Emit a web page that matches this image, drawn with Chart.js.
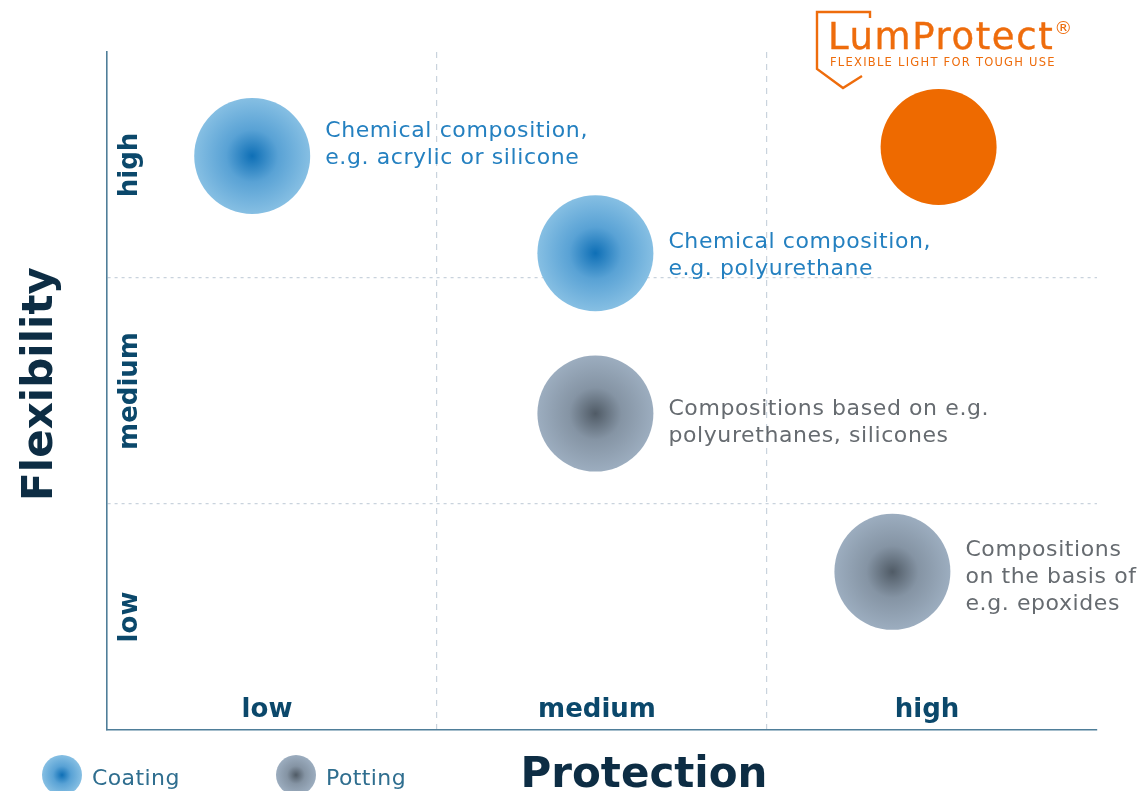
<!DOCTYPE html>
<html>
<head>
<meta charset="utf-8">
<title>LumProtect – Protection vs Flexibility</title>
<script src="https://cdn.jsdelivr.net/npm/chart.js@4.4.1/dist/chart.umd.min.js"></script>
<style>
  html, body { margin: 0; padding: 0; background: #fff; overflow: hidden; }
  #wrap { position: relative; width: 1140px; height: 791px; }
  #logo { position: absolute; left: 0; top: 0; width: 1140px; height: 100px; pointer-events: none; }
  #logo .brand {
    position: absolute; left: 828px; top: 18px;
    font: 500 37px "DejaVu Sans", sans-serif; letter-spacing: 1.6px; color: #ee6c0c; line-height: 1;
    -webkit-text-stroke: 0.4px #ee6c0c;
  }
  #logo .brand sup { font-size: 18px; vertical-align: 15px; margin-left: 0; -webkit-text-stroke: 0; }
  #logo .tag {
    position: absolute; left: 830px; top: 57px;
    font: 11.5px "DejaVu Sans", sans-serif; letter-spacing: 1.25px; color: #ee6c0c; line-height: 1;
  }
</style>
</head>
<body>
<div id="wrap">
  <canvas id="matrix" width="1140" height="791"></canvas>
  <div id="logo">
    <svg width="1140" height="100" style="position:absolute;left:0;top:0">
      <polyline points="870,18 870,12 817,12 817,69 843,88 862,76" fill="none" stroke="#ee6c0c" stroke-width="2.4" stroke-linejoin="miter"/>
    </svg>
    <div class="brand">LumProtect<sup>®</sup></div>
    <div class="tag">FLEXIBLE LIGHT FOR TOUGH USE</div>
  </div>
</div>
<script>
// Levels on both axes
const levels = ["low", "medium", "high"];

// Coating products (Protection, Flexibility)
const coatingX = [0.44, 1.48];
const coatingY = [2.54, 2.11];
const coatingNotes = [
  ["Chemical composition,", "e.g. acrylic or silicone"],
  ["Chemical composition,", "e.g. polyurethane"],
];

// Potting products
const pottingX = [1.48, 2.38];
const pottingY = [1.40, 0.70];
const pottingNotes = [
  ["Compositions based on e.g.", "polyurethanes, silicones"],
  ["Compositions", "on the basis of", "e.g. epoxides"],
];

// LumProtect
const lumX = [2.52];
const lumY = [2.58];

const RADIUS = 58;
const TICK_COLOR = "#0b486b";
const TITLE_COLOR = "#0d2d44";
const GRID_COLOR = "#c9d3dd";
const AXIS_COLOR = "#4f7e99";
// small vertical nudges of the note blocks (px)
const NOTE_SHIFT = [[-13, 0], [7, 3]];

const toPoints = (xs, ys) => xs.map((v, i) => ({ x: v, y: ys[i] }));

function radial(stops) {
  return (c) => {
    const chart = c.chart;
    if (!chart.chartArea || !c.raw) return stops[stops.length - 1];
    const px = chart.scales.x.getPixelForValue(c.raw.x);
    const py = chart.scales.y.getPixelForValue(c.raw.y);
    return makeGradient(chart.ctx, px, py, RADIUS, stops);
  };
}

function makeGradient(ctx, px, py, r, stops) {
  const g = ctx.createRadialGradient(px, py, 0, px, py, r);
  g.addColorStop(0, stops[0]);
  g.addColorStop(0.45, stops[1]);
  g.addColorStop(1, stops[2]);
  return g;
}

const coatingStops = ["#0e6fb6", "#59a2d5", "#86bfe3"];
const pottingStops = ["#505b66", "#8594a4", "#9cadbf"];

const datasets = [
  {
    label: "Coating",
    data: toPoints(coatingX, coatingY),
    notes: coatingNotes,
    noteColor: "#2480c0",
    stops: coatingStops,
    backgroundColor: radial(coatingStops),
  },
  {
    label: "Potting",
    data: toPoints(pottingX, pottingY),
    notes: pottingNotes,
    noteColor: "#666b70",
    stops: pottingStops,
    backgroundColor: radial(pottingStops),
  },
  {
    label: "LumProtect",
    data: toPoints(lumX, lumY),
    notes: [],
    backgroundColor: "#ee6a00",
    hideLegend: true,
  },
];
datasets.forEach((d) => {
  d.radius = RADIUS;
  d.borderWidth = 0;
  d.hoverRadius = 0;
});

const matrixText = {
  id: "matrixText",
  afterDatasetsDraw(chart) {
    const { ctx, chartArea, scales: { x, y } } = chart;
    ctx.save();

    // level labels inside the plot
    ctx.font = 'bold 26px "DejaVu Sans"';
    ctx.fillStyle = TICK_COLOR;
    ctx.textAlign = "center";
    ctx.textBaseline = "alphabetic";
    levels.forEach((name, i) => {
      ctx.fillText(name, x.getPixelForValue(i + 0.5) - 5, chartArea.bottom - 13);
    });
    levels.forEach((name, i) => {
      ctx.save();
      ctx.translate(chartArea.left + 30, y.getPixelForValue(i + 0.5));
      ctx.rotate(-Math.PI / 2);
      ctx.fillText(name, 0, 0);
      ctx.restore();
    });

    // axis titles
    ctx.font = 'bold 42px "DejaVu Sans"';
    ctx.fillStyle = TITLE_COLOR;
    ctx.fillText("Protection", 644, 787);
    ctx.save();
    ctx.translate(52, 384);
    ctx.rotate(-Math.PI / 2);
    ctx.fillText("Flexibility", 0, 0);
    ctx.restore();

    // notes next to bubbles
    ctx.font = '22px "DejaVu Sans"';
    ctx.letterSpacing = "0.6px";
    ctx.textAlign = "left";
    chart.data.datasets.forEach((ds, di) => {
      const meta = chart.getDatasetMeta(di);
      ds.notes.forEach((lines, i) => {
        const el = meta.data[i];
        if (!el) return;
        ctx.fillStyle = ds.noteColor;
        const top = el.y - ((lines.length - 1) * 27) / 2 + 8 + NOTE_SHIFT[di][i];
        lines.forEach((line, li) => {
          ctx.fillText(line, el.x + 73, top + li * 27);
        });
      });
    });

    // legend
    let lx = 62;
    chart.data.datasets.forEach((ds) => {
      if (ds.hideLegend) return;
      ctx.fillStyle = makeGradient(ctx, lx, 775, 20, ds.stops);
      ctx.beginPath();
      ctx.arc(lx, 775, 20, 0, Math.PI * 2);
      ctx.fill();
      ctx.fillStyle = "#2f6e8f";
      ctx.font = '22px "DejaVu Sans"';
      ctx.letterSpacing = "0.4px";
      ctx.fillText(ds.label, lx + 30, 785);
      lx += 234;
    });

    ctx.restore();
  },
};

const gridOpts = {
  color: (c) => (c.tick && (c.tick.value === 1 || c.tick.value === 2) ? GRID_COLOR : "transparent"),
  lineWidth: 1.2,
  drawTicks: false,
};

new Chart(document.getElementById("matrix"), {
  type: "bubble",
  data: { datasets },
  options: {
    responsive: false,
    animation: false,
    events: [],
    layout: {
      autoPadding: false,
      padding: { left: 107, right: 43, top: 52, bottom: 61 },
    },
    plugins: {
      legend: { display: false },
      tooltip: { enabled: false },
    },
    scales: {
      x: {
        type: "linear",
        min: 0,
        max: 3,
        ticks: { stepSize: 1, display: false },
        grid: gridOpts,
        border: { display: true, color: AXIS_COLOR, width: 1.6, dash: [6, 6] },
        afterFit: (s) => { s.height = 0; },
      },
      y: {
        type: "linear",
        min: 0,
        max: 3,
        ticks: { stepSize: 1, display: false },
        grid: gridOpts,
        border: { display: true, color: AXIS_COLOR, width: 1.6, dash: [3, 4] },
        afterFit: (s) => { s.width = 0; },
      },
    },
  },
  plugins: [matrixText],
});
</script>
</body>
</html>
